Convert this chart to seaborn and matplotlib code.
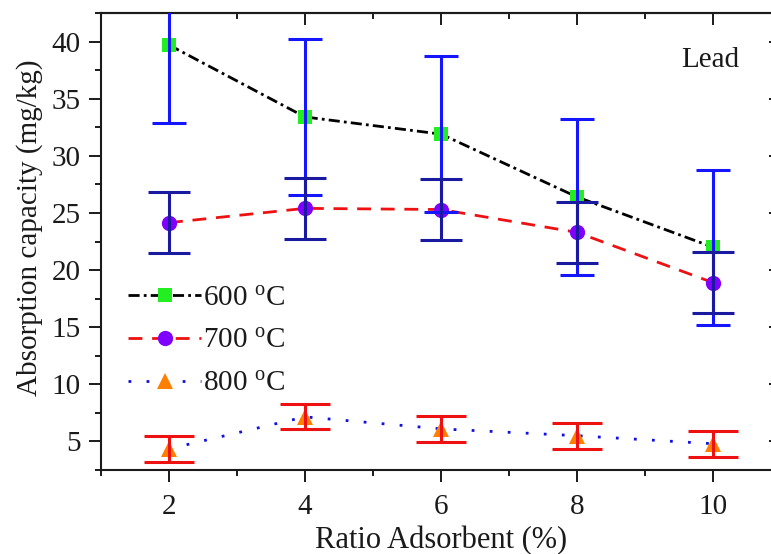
import matplotlib
matplotlib.use("Agg")
import matplotlib.pyplot as plt
from matplotlib.ticker import MultipleLocator
import seaborn as sns
import pandas as pd

# ---- data ----
ratio = [2, 4, 6, 8, 10]
cap_600 = [39.7, 33.4, 31.9, 26.4, 22.0]
err_600 = [6.8, 6.8, 6.8, 6.8, 6.8]
cap_700 = [24.15, 25.4, 25.3, 23.3, 18.9]
err_700 = [2.65, 2.65, 2.65, 2.7, 2.7]
cap_800 = [4.35, 7.15, 6.1, 5.5, 4.8]
err_800 = [1.13, 1.1, 1.13, 1.13, 1.13]
labels = ["600 $^{\\mathrm{o}}$C", "700 $^{\\mathrm{o}}$C", "800 $^{\\mathrm{o}}$C"]

FS = 21
TXT = "#1a1a1a"

sns.set_theme(style="ticks")
plt.rcParams["font.family"] = ["Liberation Serif", "DejaVu Serif"]
plt.rcParams["mathtext.fontset"] = "custom"
plt.rcParams["mathtext.rm"] = "Liberation Serif"
plt.rcParams["mathtext.it"] = "Liberation Serif:italic"

fig = plt.figure(figsize=(7.71, 5.54), dpi=100)
ax = fig.add_axes([101 / 771, 84 / 554, 680 / 771, 457 / 554])

series = [
    (cap_600, err_600, labels[0], "black", (0, (4, 1.5, 1, 1.5)), "s", "#22ee22", 10, "#1515ff", 12.5),
    (cap_700, err_700, labels[1], "#ee1111", (0, (5, 3.5)), "o", "#8000ff", 11, "#1a1aa0", 15),
    (cap_800, err_800, labels[2], "#1010e0", (0, (1, 5.5)), "^", "#ff8000", 12, "#ee1111", 18),
]

for vals, errs, lab, lcol, ls, mk, mcol, ms, ecol, cs in series:
    df = pd.DataFrame({"x": ratio, "y": vals})
    sns.lineplot(data=df, x="x", y="y", ax=ax, color=lcol, linestyle=ls, lw=2.0,
                 marker=mk, markersize=ms, markerfacecolor=mcol, markeredgecolor=mcol,
                 markeredgewidth=0, label=lab, zorder=2)

for vals, errs, lab, lcol, ls, mk, mcol, ms, ecol, cs in series:
    ax.errorbar(ratio, vals, yerr=errs, fmt="none", ecolor=ecol, elinewidth=2.2,
                capsize=cs, capthick=2.2, zorder=3)

ax.set_xlim(1, 11)
ax.set_ylim(2.5, 42.5)
ax.xaxis.set_major_locator(MultipleLocator(2))
ax.xaxis.set_minor_locator(MultipleLocator(1))
ax.yaxis.set_major_locator(MultipleLocator(5))
ax.yaxis.set_minor_locator(MultipleLocator(2.5))

ax.tick_params(axis="both", which="major", direction="out", length=8.6, width=1.4,
               labelsize=FS, colors=TXT, top=False, right=False)
ax.tick_params(axis="both", which="minor", direction="out", length=4.6, width=1.4,
               colors=TXT, top=False, right=False)
ax.tick_params(axis="y", which="major", pad=6)
ax.tick_params(axis="x", which="major", pad=9)

for s in ax.spines.values():
    s.set_linewidth(1.5)
    s.set_color(TXT)

secx = ax.secondary_xaxis("top")
secx.xaxis.set_major_locator(MultipleLocator(2))
secx.xaxis.set_minor_locator(MultipleLocator(1))
secx.tick_params(which="major", direction="in", length=8.6, width=1.4, labeltop=False, colors=TXT)
secx.tick_params(which="minor", direction="in", length=4.6, width=1.4, colors=TXT)
secx.spines["top"].set_linewidth(1.5)

secy = ax.secondary_yaxis("right")
secy.yaxis.set_major_locator(MultipleLocator(5))
secy.yaxis.set_minor_locator(MultipleLocator(2.5))
secy.tick_params(which="major", direction="in", length=8.6, width=1.4, labelright=False, colors=TXT)
secy.tick_params(which="minor", direction="in", length=4.6, width=1.4, colors=TXT)
secy.spines["right"].set_linewidth(1.5)

ax.set_xlabel("Ratio Adsorbent (%)", fontsize=22, color=TXT, labelpad=4)
ax.set_ylabel("Absorption capacity (mg/kg)", fontsize=FS, color=TXT)
ax.yaxis.set_label_coords(-0.085, 0.53)

ax.text(0.896, 0.897, "Lead", transform=ax.transAxes, fontsize=FS,
        ha="center", va="center", color=TXT)

leg = ax.legend(loc="upper left", bbox_to_anchor=(0.04, 0.405), frameon=False,
                fontsize=FS, handlelength=2.5, handletextpad=0.05, labelspacing=0.56,
                borderaxespad=0, borderpad=0)
for t in leg.get_texts():
    t.set_color(TXT)

fig.savefig("out.png", dpi=100)
